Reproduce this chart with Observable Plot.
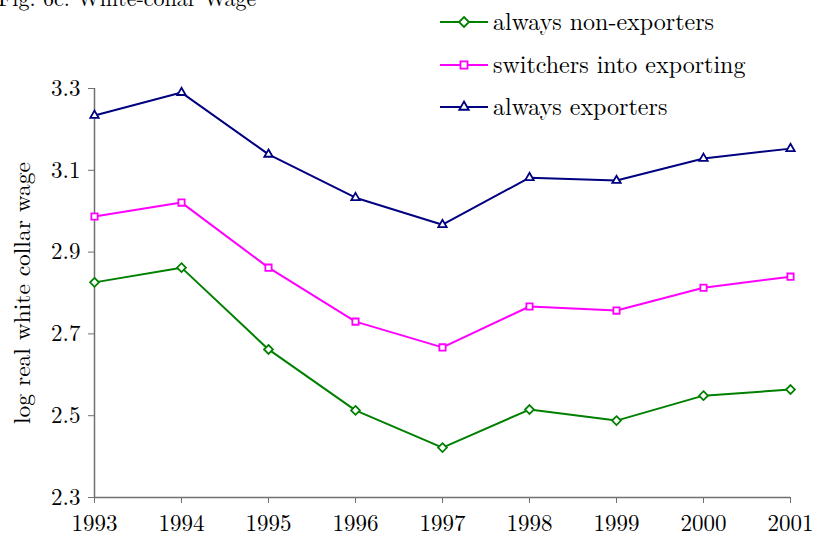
<!DOCTYPE html>
<html>
<head>
<meta charset="utf-8">
<script src="https://cdn.jsdelivr.net/npm/d3@7"></script>
<script src="https://cdn.jsdelivr.net/npm/@observablehq/plot@0.6"></script>
<style>
  html, body { margin: 0; padding: 0; background: #fff; }
  #wrap { position: relative; width: 819px; height: 537px; overflow: hidden; font-family: 'Latin Modern Roman', 'Liberation Serif', serif; }
  #title { position: absolute; left: -2px; top: -19px; font-size: 22px; white-space: nowrap; color: #000; font-family: 'Latin Modern Roman', 'Liberation Serif', serif; }
  #legend { position: absolute; left: 0; top: 0; }
  #chart svg, #chart svg text, #legend text { font-family: 'Latin Modern Roman', 'Liberation Serif', serif !important; }
</style>
</head>
<body>
<div id="wrap">
  <div id="chart"></div>
  <div id="title">Fig. 6c: White-collar Wage</div>
  <svg id="legend" width="819" height="130"></svg>
</div>
<script>
const years = [1993, 1994, 1995, 1996, 1997, 1998, 1999, 2000, 2001];
const nonExporters = [2.826, 2.862, 2.662, 2.513, 2.422, 2.515, 2.488, 2.549, 2.564];
const switchers    = [2.987, 3.021, 2.862, 2.730, 2.667, 2.767, 2.757, 2.813, 2.840];
const exporters    = [3.234, 3.290, 3.139, 3.033, 2.967, 3.082, 3.075, 3.129, 3.153];
const seriesNames  = ["always non-exporters", "switchers into exporting", "always exporters"];
const seriesColors = ["#008000", "#ff00ff", "#000080"];
const seriesSymbols = ["diamond2", "square2", "triangle2"];
const yTicks = [2.3, 2.5, 2.7, 2.9, 3.1, 3.3];

const seriesValues = [nonExporters, switchers, exporters];
const data = [];
seriesNames.forEach((name, i) => {
  years.forEach((yr, j) => data.push({series: name, year: yr, value: seriesValues[i][j]}));
});

const FONT = "'Latin Modern Roman', 'Liberation Serif', serif";

const chart = Plot.plot({
  width: 819,
  height: 537,
  marginLeft: 94,
  marginRight: 29,
  marginTop: 88,
  marginBottom: 40,
  style: {fontFamily: FONT, fontSize: "23px", color: "#000", background: "transparent"},
  x: {domain: [1993, 2001]},
  y: {domain: [2.3, 3.3]},
  color: {domain: seriesNames, range: seriesColors},
  symbol: {domain: seriesNames, range: seriesSymbols},
  marks: [
    Plot.ruleX([1993], {stroke: "#707070", strokeWidth: 1.5}),
    Plot.ruleY([2.3], {stroke: "#707070", strokeWidth: 1.5}),
    Plot.axisX({ticks: years, tickFormat: d => String(d), tickSize: 6, tickPadding: 11, stroke: "#707070", label: null, fontSize: 23}),
    Plot.axisY({ticks: yTicks, tickFormat: d => d.toFixed(1), tickSize: 6, tickPadding: 8, stroke: "#707070", label: null, fontSize: 23}),
    Plot.text(["log real white collar wage"], {frameAnchor: "left", dx: -72, rotate: -90, textAnchor: "middle", fontSize: 23.5, fill: "#000"}),
    Plot.line(data, {x: "year", y: "value", z: "series", stroke: "series", strokeWidth: 2}),
    Plot.dot(data, {x: "year", y: "value", symbol: "series", stroke: "series", fill: "white", r: 4, strokeWidth: 1.8})
  ]
});
document.getElementById("chart").appendChild(chart);

// Legend
const leg = d3.select("#legend");
const rowsY = [22, 65, 107];
const symGen = {diamond2: d3.symbolDiamond2, square2: d3.symbolSquare2, triangle2: d3.symbolTriangle2};
seriesNames.forEach((name, i) => {
  const g = leg.append("g").attr("transform", `translate(0,${rowsY[i]})`);
  g.append("line").attr("x1", 440).attr("x2", 488).attr("y1", 0).attr("y2", 0)
    .attr("stroke", seriesColors[i]).attr("stroke-width", 2);
  g.append("path").attr("transform", "translate(464,0)")
    .attr("d", d3.symbol(symGen[seriesSymbols[i]], 64)())
    .attr("fill", "white").attr("stroke", seriesColors[i]).attr("stroke-width", 1.8);
  g.append("text").attr("x", 493).attr("y", 0).attr("dy", "0.32em")
    .attr("font-family", FONT).attr("font-size", 24).attr("fill", "#000").text(name);
});
</script>
</body>
</html>
